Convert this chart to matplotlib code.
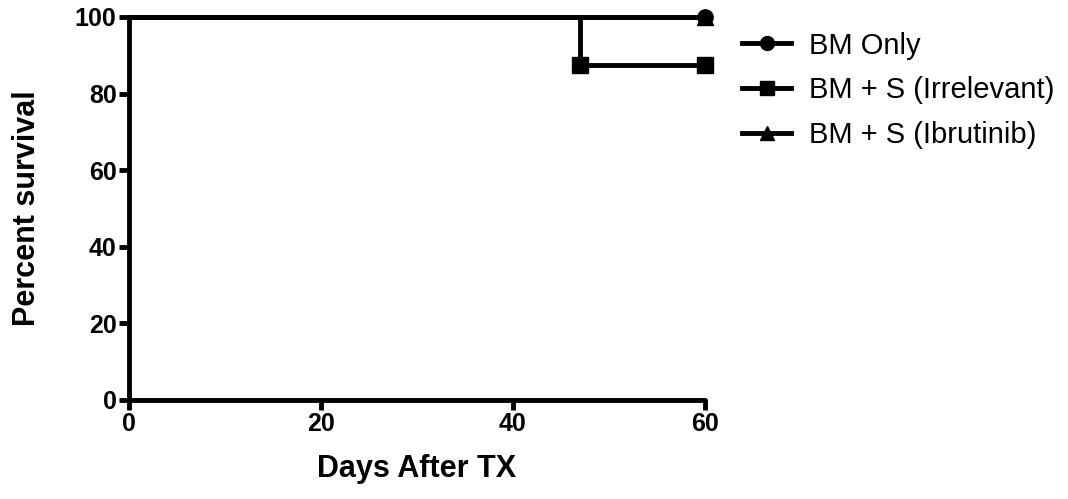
import matplotlib.pyplot as plt

plt.rcParams['font.family'] = ['Liberation Sans', 'DejaVu Sans']

# Kaplan-Meier steps (days, percent survival)
bm_days = [0, 60]
bm_surv = [100, 100]
irr_days = [0, 47, 60]
irr_surv = [100, 87.5, 87.5]
ibr_days = [0, 60]
ibr_surv = [100, 100]

# marker points (events / end of follow-up)
bm_mark_x, bm_mark_y = [60], [100]
irr_mark_x, irr_mark_y = [47, 60], [87.5, 87.5]
ibr_mark_x, ibr_mark_y = [60], [100]

labels = ["BM Only", "BM + S (Irrelevant)", "BM + S (Ibrutinib)"]
xticks = [0, 20, 40, 60]
yticks = [0, 20, 40, 60, 80, 100]

fig = plt.figure(figsize=(10.68, 4.99), dpi=100)
ax = fig.add_axes([0.1208, 0.1984, 0.5393, 0.7676])

lw = 3.5
ax.step(ibr_days, ibr_surv, where='post', color='black', lw=lw, zorder=2)
ax.plot(ibr_mark_x, ibr_mark_y, '^', color='black', ms=11, zorder=3)
ax.step(irr_days, irr_surv, where='post', color='black', lw=lw, zorder=2)
ax.plot(irr_mark_x, irr_mark_y, 's', color='black', ms=11, zorder=3)
ax.step(bm_days, bm_surv, where='post', color='black', lw=lw, zorder=2)
ax.plot(bm_mark_x, bm_mark_y, 'o', color='black', ms=11, zorder=4)

# legend proxies
h1, = ax.plot([], [], '-o', color='black', lw=lw, ms=10)
h2, = ax.plot([], [], '-s', color='black', lw=lw, ms=10)
h3, = ax.plot([], [], '-^', color='black', lw=lw, ms=10)
fig.legend([h1, h2, h3], labels, loc='upper left', bbox_to_anchor=(0.681, 0.966),
           frameon=False, fontsize=21, handlelength=1.7, handletextpad=0.6,
           labelspacing=0.58, borderpad=0)

ax.set_xlim(0, 60)
ax.set_ylim(0, 100)
ax.set_xticks(xticks)
ax.set_yticks(yticks)
ax.spines['top'].set_visible(False)
ax.spines['right'].set_visible(False)
ax.spines['left'].set_linewidth(3.5)
ax.spines['bottom'].set_linewidth(3.5)
for s in ['left', 'bottom']:
    ax.spines[s].set_capstyle('round')
ax.tick_params(width=3.5, length=7, labelsize=18, pad=2)
for t in ax.get_xticklabels() + ax.get_yticklabels():
    t.set_fontweight('bold')

ax.set_xlabel("Days After TX", fontsize=22, fontweight='bold')
ax.set_ylabel("Percent survival", fontsize=22, fontweight='bold')
ax.xaxis.set_label_coords(0.5, -0.14)
ax.yaxis.set_label_coords(-0.151, 0.5)
ax.patch.set_visible(False)
for art in ax.lines:
    art.set_clip_on(False)

fig.savefig("out.png", dpi=100)
